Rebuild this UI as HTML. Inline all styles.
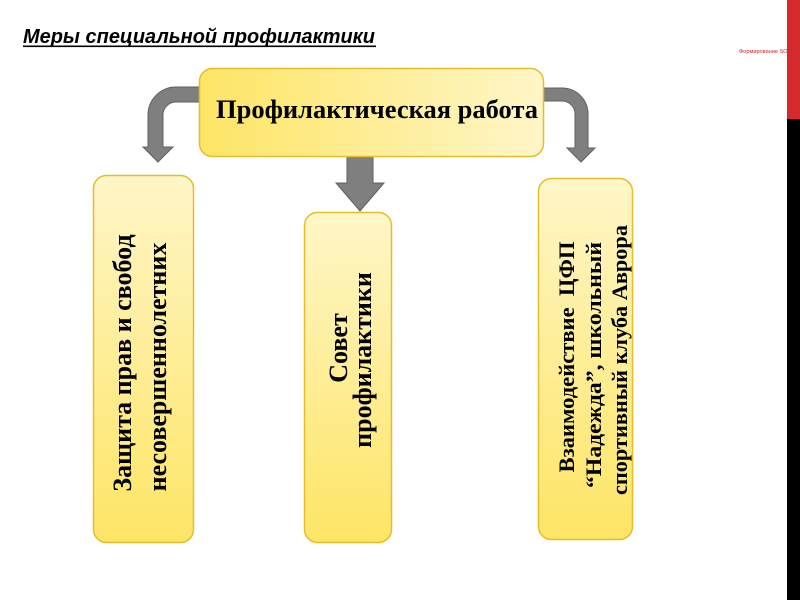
<!DOCTYPE html>
<html><head><meta charset="utf-8"><style>
html,body{margin:0;padding:0;background:#fff;}
svg{display:block;}
</style></head><body>
<svg width="800" height="600" viewBox="0 0 800 600" xmlns="http://www.w3.org/2000/svg">
<defs>
<linearGradient id="gh" x1="0" y1="0" x2="1" y2="0">
<stop offset="0" stop-color="#fde565"/><stop offset="1" stop-color="#fff6c8"/>
</linearGradient>
<linearGradient id="gv" x1="0" y1="1" x2="0" y2="0">
<stop offset="0" stop-color="#fde565"/><stop offset="1" stop-color="#fff6c8"/>
</linearGradient>
</defs>
<rect width="800" height="600" fill="#fff"/>
<text x="23" y="43" font-family="Liberation Sans, sans-serif" font-size="20" font-weight="bold" font-style="italic" fill="#000" textLength="352" lengthAdjust="spacingAndGlyphs">Меры специальной профилактики</text>
<rect x="23" y="45.5" width="353" height="1.6" fill="#000"/>
<text x="739" y="53" font-family="Liberation Sans, sans-serif" font-size="5.6" fill="#c8262c">Формирование SOS</text>
<rect x="787" y="0" width="13" height="119" fill="#d32a2e"/>
<rect x="787" y="119" width="13" height="481" fill="#000"/>
<g fill="#7f7f7f" stroke="#606060" stroke-width="1" stroke-linejoin="miter">
<path d="M202,87 L176,87 A28,28 0 0 0 148,115 L148,147 L143,147 L158,162 L173,147 L163,147 L163,116 A13,13 0 0 1 176,102 L202,102 Z"/>
<path d="M541,88 L562,88 A26,26 0 0 1 588,114 L588,148 L595,148 L581,162 L567,148 L575,148 L575,114 A13,13 0 0 0 562,101 L541,101 Z"/>
<path d="M347,155 L373,155 L373,183 L384,183 L360,211 L336,183 L347,183 Z"/>
</g>
<g stroke="#e3bd2c" stroke-width="1.5">
<rect x="199.5" y="68.5" width="344" height="88" rx="13" fill="url(#gh)"/>
<rect x="93.5" y="175.5" width="100" height="367" rx="13" fill="url(#gv)"/>
<rect x="304.5" y="212.5" width="87" height="330" rx="13" fill="url(#gv)"/>
<rect x="538.5" y="178.5" width="94" height="361" rx="13" fill="url(#gv)"/>
</g>
<g font-family="Liberation Serif, serif" font-weight="bold" fill="#000" text-anchor="middle">
<text x="377" y="118" font-size="26.5" textLength="322" lengthAdjust="spacingAndGlyphs">Профилактическая работа</text>
<text font-size="26" transform="translate(131,363) rotate(-90)">Защита прав и свобод</text>
<text font-size="26" transform="translate(166,367) rotate(-90)">несовершеннолетних</text>
<text font-size="26" transform="translate(347,348) rotate(-90)">Совет</text>
<text font-size="26" transform="translate(371,360) rotate(-90)">профилактики</text>
<text font-size="22" transform="translate(574,357) rotate(-90)" xml:space="preserve" textLength="231" lengthAdjust="spacingAndGlyphs">Взаимодействие  ЦФП</text>
<text font-size="22" transform="translate(601,365) rotate(-90)" textLength="246" lengthAdjust="spacingAndGlyphs">“Надежда”, школьный</text>
<text font-size="22" transform="translate(627,360) rotate(-90)" textLength="270" lengthAdjust="spacingAndGlyphs">спортивный клуба Аврора</text>
</g>
</svg>
</body></html>
